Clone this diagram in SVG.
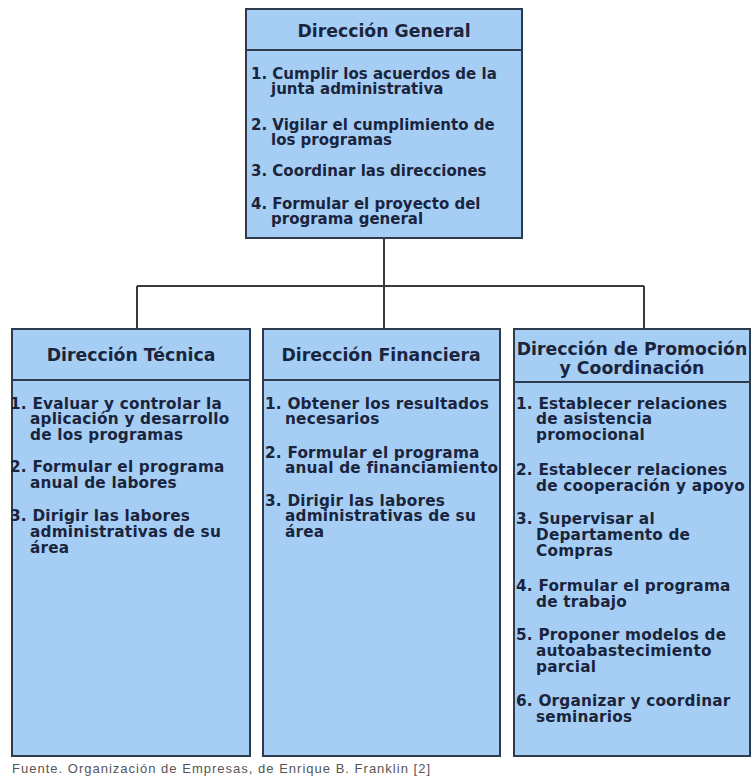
<svg xmlns="http://www.w3.org/2000/svg" width="753" height="783" viewBox="0 0 753 783">
<style>
.box{fill:#a6cef5;stroke:#2e3b4c;stroke-width:2}
.div{stroke:#2e3b4c;stroke-width:2}
.hd{font-family:"DejaVu Sans",Verdana,sans-serif;font-weight:bold;font-size:17.3px;fill:#1a253d;text-anchor:middle}
.tx{font-family:"DejaVu Sans",Verdana,sans-serif;font-weight:bold;font-size:15.3px;letter-spacing:0.2px;fill:#1a253d}
.tt{font-size:15px;letter-spacing:0}
.con{fill:none;stroke:#3a3a3a;stroke-width:2}
.ft{font-family:"Liberation Sans",Arial,sans-serif;font-size:13px;fill:#555}
</style>
<rect width="753" height="783" fill="#fff"/>
<g id="connectors">
<path class="con" d="M384 238V286M137 286H644M137 286V329M384 286V329M644 286V329"/>
</g>
<g id="general">
<rect class="box" x="246" y="9" width="276" height="229"/>
<line class="div" x1="246" y1="50" x2="522" y2="50"/>
<text class="hd" x="384" y="37" font-size="18.5">Dirección General</text>
<text class="tx tt" x="251" y="79">1. Cumplir los acuerdos de la</text>
<text class="tx tt" x="271" y="94">junta administrativa</text>
<text class="tx tt" x="251" y="130">2. Vigilar el cumplimiento de</text>
<text class="tx tt" x="271" y="145">los programas</text>
<text class="tx tt" x="251" y="176">3. Coordinar las direcciones</text>
<text class="tx tt" x="251" y="209">4. Formular el proyecto del</text>
<text class="tx tt" x="271" y="224">programa general</text>
</g>
<g id="tecnica">
<rect class="box" x="12" y="329" width="238" height="427"/>
<line class="div" x1="12" y1="380" x2="250" y2="380"/>
<text class="hd" x="131" y="361">Dirección Técnica</text>
<text class="tx" x="10" y="409">1. Evaluar y controlar la</text>
<text class="tx" x="30" y="424">aplicación y desarrollo</text>
<text class="tx" x="30" y="440">de los programas</text>
<text class="tx" x="10" y="472">2. Formular el programa</text>
<text class="tx" x="30" y="488">anual de labores</text>
<text class="tx" x="10" y="521">3. Dirigir las labores</text>
<text class="tx" x="30" y="537">administrativas de su</text>
<text class="tx" x="30" y="553">área</text>
</g>
<g id="financiera">
<rect class="box" x="263" y="329" width="237" height="427"/>
<line class="div" x1="263" y1="380" x2="500" y2="380"/>
<text class="hd" x="381" y="361">Dirección Financiera</text>
<text class="tx" x="265" y="409">1. Obtener los resultados</text>
<text class="tx" x="285" y="424">necesarios</text>
<text class="tx" x="265" y="458">2. Formular el programa</text>
<text class="tx" x="285" y="473">anual de financiamiento</text>
<text class="tx" x="265" y="506">3. Dirigir las labores</text>
<text class="tx" x="285" y="521">administrativas de su</text>
<text class="tx" x="285" y="537">área</text>
</g>
<g id="promocion">
<rect class="box" x="514" y="329" width="236" height="427"/>
<line class="div" x1="514" y1="382" x2="750" y2="382"/>
<text class="hd" x="632" y="355">Dirección de Promoción</text>
<text class="hd" x="632" y="374">y Coordinación</text>
<text class="tx" x="516" y="409">1. Establecer relaciones</text>
<text class="tx" x="536" y="424">de asistencia</text>
<text class="tx" x="536" y="440">promocional</text>
<text class="tx" x="516" y="475">2. Establecer relaciones</text>
<text class="tx" x="536" y="491">de cooperación y apoyo</text>
<text class="tx" x="516" y="524">3. Supervisar al</text>
<text class="tx" x="536" y="540">Departamento de</text>
<text class="tx" x="536" y="556">Compras</text>
<text class="tx" x="516" y="591">4. Formular el programa</text>
<text class="tx" x="536" y="607">de trabajo</text>
<text class="tx" x="516" y="640">5. Proponer modelos de</text>
<text class="tx" x="536" y="656">autoabastecimiento</text>
<text class="tx" x="536" y="672">parcial</text>
<text class="tx" x="516" y="706">6. Organizar y coordinar</text>
<text class="tx" x="536" y="722">seminarios</text>
</g>
<text class="ft" x="12" y="773" textLength="418" lengthAdjust="spacing">Fuente. Organización de Empresas, de Enrique B. Franklin [2]</text>
</svg>
